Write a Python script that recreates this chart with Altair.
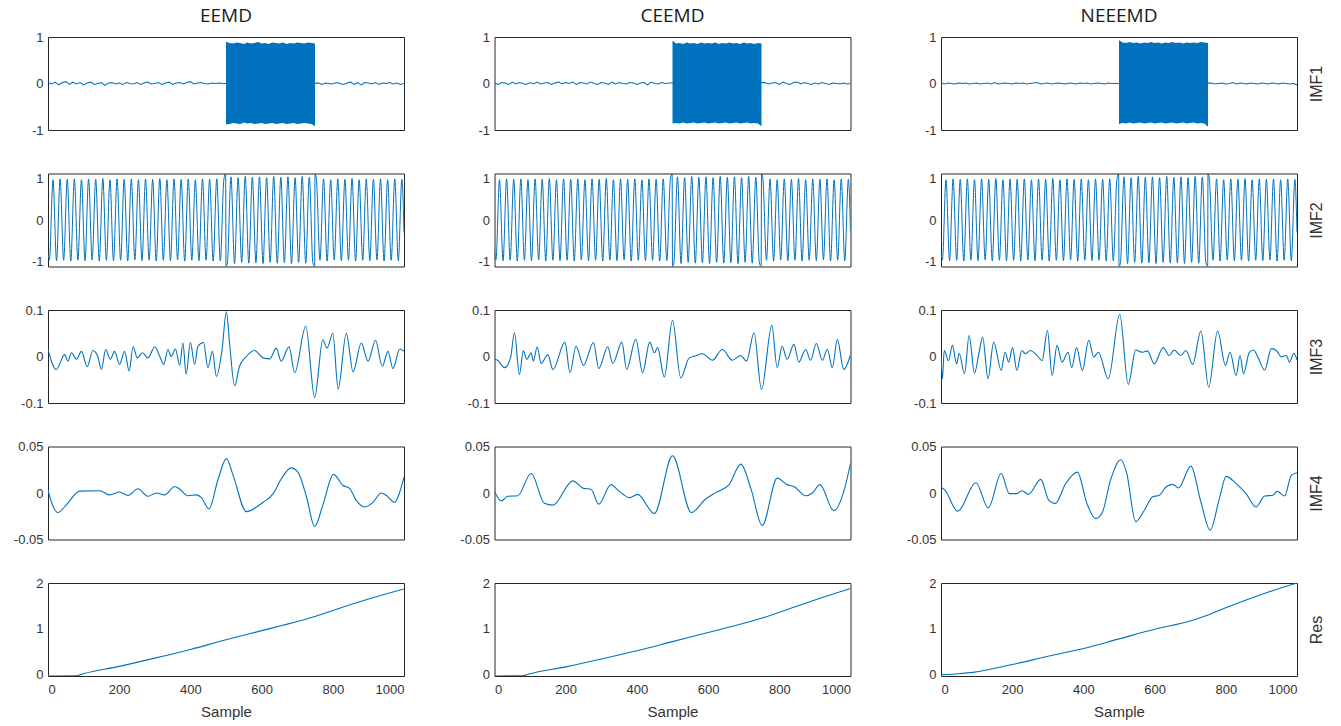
import altair as alt
import pandas as pd

BLUE = "#0072BD"
FRAME = "#262626"
TEXT = "#333333"

METHODS = ["EEMD", "CEEMD", "NEEEMD"]
ROW_LABELS = ["IMF1", "IMF2", "IMF3", "IMF4", "Res"]
Y_DOMAINS = [[-1, 1], [-1.12, 1.12], [-0.1, 0.1], [-0.05, 0.05], [-0.03, 2]]
Y_TICKS = [[-1, 0, 1], [-1, 0, 1], [-0.1, 0, 0.1], [-0.05, 0, 0.05], [0, 1, 2]]
X_TICKS = [0, 200, 400, 600, 800, 1000]

# ---------------- IMF1 : low noise + burst (500-750) ----------------
IMF1_PRE_X = [0, 10, 20, 30, 40, 50, 60, 70, 80, 90, 100, 110, 120, 130, 140, 150, 160, 170, 180, 190,
              200, 210, 220, 230, 240, 250, 260, 270, 280, 290, 300, 310, 320, 330, 340, 350, 360, 370, 380, 390,
              400, 410, 420, 430, 440, 450, 460, 470, 480, 490]
IMF1_POST_X = [760, 770, 780, 790, 800, 810, 820, 830, 840, 850, 860, 870, 880, 890, 900, 910, 920, 930, 940, 950,
               960, 970, 980, 990, 1000]
BURST_X = [500, 510, 520, 530, 540, 550, 560, 570, 580, 590, 600, 610, 620, 630, 640, 650, 660, 670, 680, 690,
           700, 710, 720, 730, 740, 750]

EEMD_IMF1_PRE = [0.02, -0.01, 0.03, -0.03, 0.02, 0.04, -0.02, 0.03, -0.01, 0.02,
                 -0.03, 0.01, 0.03, -0.02, 0.00, 0.02, -0.04, 0.01, 0.02, -0.01,
                 0.01, -0.02, 0.02, 0.00, -0.01, 0.02, -0.02, 0.01, 0.03, -0.01,
                 0.00, 0.02, -0.02, 0.01, 0.03, -0.02, 0.01, 0.02, -0.01, 0.02,
                 0.04, -0.01, 0.01, 0.02, 0.00, -0.01, 0.01, 0.00, 0.01, 0.00]
EEMD_IMF1_POST = [0.01, -0.02, 0.01, 0.00, -0.01, 0.02, 0.00, -0.02, 0.01, 0.03, -0.02, 0.02, -0.03,
                  0.02, 0.01, -0.01, 0.02, -0.02, 0.01, 0.00, 0.02, -0.01, 0.01, -0.02, 0.00]
EEMD_BURST_HI = [0.90, 0.87, 0.86, 0.88, 0.87, 0.85, 0.88, 0.86, 0.87, 0.89, 0.86, 0.87, 0.85,
                 0.88, 0.87, 0.86, 0.88, 0.85, 0.87, 0.86, 0.88, 0.87, 0.86, 0.88, 0.87, 0.86]
EEMD_BURST_LO = [-0.88, -0.87, -0.85, -0.86, -0.87, -0.84, -0.86, -0.85, -0.87, -0.86, -0.85, -0.87, -0.86,
                 -0.85, -0.87, -0.86, -0.85, -0.87, -0.86, -0.85, -0.87, -0.86, -0.85, -0.86, -0.87, -0.92]

CEEMD_IMF1_PRE = [0.01, -0.02, 0.02, 0.01, -0.02, 0.03, -0.01, 0.02, 0.00, -0.02,
                  0.02, -0.01, 0.03, -0.01, 0.01, 0.02, -0.02, 0.01, 0.03, -0.01,
                  0.02, 0.00, 0.03, -0.02, 0.02, 0.01, -0.01, 0.03, 0.00, -0.02,
                  0.02, 0.01, -0.02, 0.03, -0.01, 0.02, 0.00, -0.01, 0.02, 0.01,
                  -0.02, 0.01, 0.02, -0.03, 0.03, 0.00, -0.01, 0.02, 0.00, 0.01]
CEEMD_IMF1_POST = [0.02, -0.01, 0.01, 0.02, -0.02, 0.03, 0.00, -0.02, 0.02, 0.03, -0.01, 0.02, 0.00,
                   -0.02, 0.01, -0.01, 0.02, 0.00, -0.02, 0.01, 0.00, -0.01, 0.01, -0.01, 0.00]
CEEMD_BURST_HI = [0.92, 0.86, 0.87, 0.85, 0.88, 0.86, 0.87, 0.85, 0.88, 0.86, 0.87, 0.86, 0.88,
                  0.85, 0.87, 0.86, 0.88, 0.86, 0.87, 0.85, 0.88, 0.86, 0.87, 0.85, 0.87, 0.86]
CEEMD_BURST_LO = [-0.86, -0.85, -0.86, -0.84, -0.86, -0.85, -0.84, -0.86, -0.85, -0.84, -0.86, -0.85, -0.84,
                  -0.86, -0.85, -0.84, -0.86, -0.85, -0.84, -0.86, -0.85, -0.84, -0.86, -0.85, -0.86, -0.92]

NEEEMD_IMF1_PRE = [0.01, -0.01, 0.01, 0.00, -0.01, 0.01, 0.00, 0.01, -0.01, 0.00,
                   0.01, -0.01, 0.00, 0.01, -0.01, 0.02, -0.01, 0.00, 0.01, 0.00,
                   -0.01, 0.01, 0.00, 0.01, -0.01, 0.00, 0.01, 0.02, -0.01, 0.00,
                   0.01, -0.01, 0.00, 0.01, 0.00, -0.01, 0.01, 0.00, -0.01, 0.01,
                   0.00, 0.01, -0.01, 0.00, 0.01, 0.00, -0.01, 0.01, 0.00, 0.00]
NEEEMD_IMF1_POST = [0.01, -0.01, 0.00, 0.01, -0.01, 0.00, 0.02, -0.01, 0.01, 0.00, -0.01, 0.01, 0.00,
                    -0.01, 0.01, 0.00, -0.01, 0.01, 0.00, -0.01, 0.01, 0.00, -0.01, 0.00, -0.03]
NEEEMD_BURST_HI = [0.93, 0.88, 0.87, 0.89, 0.87, 0.88, 0.86, 0.88, 0.87, 0.89, 0.87, 0.88, 0.86,
                   0.88, 0.87, 0.89, 0.87, 0.88, 0.86, 0.88, 0.87, 0.88, 0.87, 0.89, 0.88, 0.87]
NEEEMD_BURST_LO = [-0.87, -0.85, -0.86, -0.84, -0.86, -0.85, -0.84, -0.86, -0.85, -0.84, -0.86, -0.85, -0.84,
                   -0.86, -0.85, -0.84, -0.86, -0.85, -0.84, -0.86, -0.85, -0.84, -0.86, -0.85, -0.86, -0.93]

# ---------------- IMF2 : ~50-cycle oscillation (extrema) ----------------
IMF2_PEAK_X = [14, 34, 54, 74, 94, 114, 134, 154, 174, 194, 214, 234, 254, 274, 294, 314, 334, 354, 374, 394,
               414, 434, 454, 474, 494, 514, 534, 554, 574, 594, 614, 634, 654, 674, 694, 714, 734, 754, 774, 794,
               814, 834, 854, 874, 894, 914, 934, 954, 974, 994]
IMF2_PEAK_Y = [0.97, 0.99, 0.98, 0.99, 0.97, 0.99, 0.98, 1.0, 0.97, 0.99,
               0.98, 0.99, 0.97, 0.99, 0.98, 1.0, 0.97, 0.99, 0.98, 0.99,
               0.97, 0.99, 0.98, 0.99, 0.98,
               1.04, 1.02, 1.05, 1.03, 1.04, 1.02, 1.05, 1.03, 1.04, 1.02, 1.05, 1.03,
               0.98, 0.99, 0.97, 0.99, 0.98, 1.0, 0.97, 0.99, 0.98, 0.99, 0.97, 0.99, 0.98]
IMF2_TROUGH_X = [4, 24, 44, 64, 84, 104, 124, 144, 164, 184, 204, 224, 244, 264, 284, 304, 324, 344, 364, 384,
                 404, 424, 444, 464, 484, 504, 524, 544, 564, 584, 604, 624, 644, 664, 684, 704, 724, 744, 764, 784,
                 804, 824, 844, 864, 884, 904, 924, 944, 964, 984]
IMF2_TROUGH_Y = [-0.96, -0.98, -0.97, -0.99, -0.97, -0.98, -0.96, -0.99, -0.97, -0.98,
                 -0.97, -0.99, -0.96, -0.98, -0.97, -0.99, -0.97, -0.98, -0.96, -0.99,
                 -0.97, -0.98, -0.97, -0.99, -0.98,
                 -1.03, -1.05, -1.02, -1.04, -1.03, -1.05, -1.02, -1.04, -1.03, -1.05, -1.02, -1.04, -1.03,
                 -0.97, -0.99, -0.96, -0.98, -0.97, -0.99, -0.97, -0.98, -0.96, -0.99, -0.97, -0.98]
IMF2_EXTRA_X = [0, 499, 500, 749, 750, 1000]
IMF2_EXTRA_Y = [-0.8, 1.12, -1.12, -1.12, 1.12, -0.3]

# ---------------- IMF3 ----------------
EEMD_IMF3_X = [0, 23, 47, 56, 66, 80, 94, 110, 126, 140, 150, 162, 175, 187, 201, 215, 228, 239, 251, 265,
               281, 300, 314, 325, 337, 346, 358, 370, 379, 388, 400, 412, 421, 437, 449, 462, 473, 489, 501, 510,
               524, 538, 557, 580, 604, 623, 641, 655, 677, 693, 724, 749, 772, 784, 800, 815, 838, 857, 880, 899,
               920, 939, 955, 969, 988, 1000]
EEMD_IMF3_Y = [0.015, -0.028, 0.004, -0.01, 0.008, -0.006, 0.011, -0.022, 0.013, 0.0,
               -0.028, 0.015, -0.006, 0.011, -0.017, 0.011, -0.031, 0.021, -0.003, 0.008,
               -0.003, 0.021, 0.0, -0.017, 0.015, 0.0, 0.016, -0.019, 0.029, -0.038,
               0.03, -0.017, 0.022, 0.03, -0.024, 0.011, -0.043, 0.015, 0.096, 0.029,
               -0.063, -0.021, 0.0, 0.013, -0.003, -0.005, 0.018, -0.01, 0.021, -0.035,
               0.065, -0.088, 0.036, 0.018, 0.05, -0.07, 0.05, -0.033, 0.029, -0.01,
               0.035, -0.021, 0.011, -0.026, 0.016, 0.011]
CEEMD_IMF3_X = [0, 9, 28, 45, 56, 70, 81, 91, 103, 109, 120, 131, 150, 164, 198, 212, 229, 250, 278, 293,
                318, 332, 358, 371, 397, 416, 436, 449, 458, 477, 500, 523, 547, 564, 584, 612, 640, 668, 692, 708,
                729, 750, 779, 794, 808, 822, 841, 855, 874, 888, 904, 921, 935, 949, 963, 981, 1000]
CEEMD_IMF3_Y = [-0.006, -0.008, -0.024, -0.003, 0.051, -0.039, 0.012, -0.006, 0.008, -0.01,
                0.021, -0.015, 0.004, -0.028, 0.031, -0.035, 0.022, -0.019, 0.03, -0.026,
                0.021, -0.015, 0.031, -0.028, 0.037, -0.035, 0.031, 0.008, 0.019, -0.044,
                0.078, -0.046, -0.003, 0.001, 0.006, -0.008, 0.015, -0.008, 0.002, -0.01,
                0.051, -0.071, 0.067, -0.024, 0.022, -0.006, 0.026, -0.012, 0.015, -0.008,
                0.028, -0.008, 0.015, -0.024, 0.037, -0.028, 0.004]
NEEEMD_IMF3_X = [0, 4, 9, 21, 32, 44, 51, 66, 79, 94, 107, 117, 132, 148, 169, 180, 190, 201, 213, 227,
                 237, 251, 270, 284, 299, 312, 326, 340, 357, 367, 381, 397, 415, 429, 442, 470, 502, 526, 547, 566,
                 580, 599, 624, 641, 655, 674, 688, 707, 730, 752, 777, 799, 812, 829, 840, 850, 866, 878, 890, 909,
                 928, 942, 956, 970, 979, 991, 1000]
NEEEMD_IMF3_Y = [-0.001, -0.048, 0.013, -0.009, 0.024, -0.016, 0.007, -0.037, 0.045, -0.036,
                 0.009, 0.042, -0.048, 0.031, -0.03, 0.009, -0.012, 0.019, -0.03, 0.013,
                 0.006, 0.013, 0.002, -0.009, 0.056, -0.041, 0.024, -0.012, 0.009, -0.024,
                 0.019, -0.03, 0.035, -0.001, 0.009, -0.048, 0.091, -0.06, 0.014, 0.009,
                 0.012, -0.016, 0.019, 0.002, 0.014, 0.002, 0.013, -0.017, 0.055, -0.066,
                 0.055, -0.019, 0.009, -0.041, 0.002, -0.037, 0.009, 0.014, -0.001, -0.029,
                 0.017, 0.013, -0.001, 0.002, -0.012, 0.007, -0.007]

# ---------------- IMF4 ----------------
EEMD_IMF4_X = [0, 5, 28, 51, 89, 145, 173, 201, 225, 253, 281, 304, 328, 356, 370, 393, 417, 431, 452, 478,
               501, 520, 557, 604, 632, 655, 683, 702, 726, 749, 772, 802, 829, 847, 866, 889, 913, 936, 950, 974,
               988, 1000]
EEMD_IMF4_Y = [0.003, -0.004, -0.021, -0.013, 0.002, 0.0025, -0.002, 0.001, -0.0025, 0.0045,
               -0.0035, 0.0, -0.002, 0.007, 0.004, -0.003, -0.002, -0.005, -0.017, 0.015,
               0.037, 0.019, -0.02, -0.01, -0.001, 0.015, 0.027, 0.0225, -0.004, -0.036,
               -0.013, 0.02, 0.008, 0.005, -0.008, -0.015, -0.010, 0.0, -0.0025, -0.010,
               0.001, 0.017]
CEEMD_IMF4_X = [0, 19, 37, 65, 103, 140, 164, 220, 250, 271, 293, 327, 350, 380, 402, 449, 500, 553, 593, 621,
                659, 692, 720, 752, 794, 822, 841, 874, 893, 914, 953, 981, 1000]
CEEMD_IMF4_Y = [0.0015, -0.0085, -0.0035, -0.003, 0.021, -0.011, -0.013, 0.013, 0.005, 0.004,
                -0.012, 0.009, 0.002, -0.005, -0.0015, -0.022, 0.04, -0.021, -0.0065, 0.0004,
                0.009, 0.031, 0.005, -0.035, 0.016, 0.009, 0.007, -0.003, 0.0, 0.009,
                -0.019, 0.0015, 0.032]
NEEEMD_IMF4_X = [0, 11, 47, 98, 133, 169, 192, 213, 227, 246, 280, 303, 321, 350, 383, 410, 434, 453, 476, 505,
                 521, 547, 571, 594, 613, 632, 650, 667, 702, 730, 756, 782, 801, 829, 857, 885, 909, 932, 944, 965,
                 984, 1000]
NEEEMD_IMF4_Y = [0.0064, 0.003, -0.0196, 0.011, -0.016, 0.021, -0.0007, -0.0007, 0.0025, -0.0014,
                 0.0146, -0.0079, -0.0114, 0.01, 0.0225, -0.0114, -0.0275, -0.021, 0.0136, 0.0357,
                 0.0225, -0.031, -0.0186, -0.0043, -0.0025, 0.0064, 0.0093, 0.0054, 0.0289, -0.0096,
                 -0.04, -0.006, 0.0179, 0.01, -0.0007, -0.015, -0.0032, -0.0025, 0.0018, -0.0032,
                 0.019, 0.0218]

# ---------------- Residue ----------------
EEMD_RES_X = [0, 80, 100, 200, 300, 400, 500, 600, 700, 750, 800, 900, 1000]
EEMD_RES_Y = [-0.03, -0.025, 0.02, 0.18, 0.36, 0.55, 0.76, 0.96, 1.16, 1.27, 1.40, 1.65, 1.87]
CEEMD_RES_X = [0, 80, 100, 200, 300, 400, 500, 600, 700, 750, 800, 900, 1000]
CEEMD_RES_Y = [-0.03, -0.025, 0.02, 0.17, 0.34, 0.52, 0.72, 0.92, 1.12, 1.23, 1.36, 1.63, 1.88]
NEEEMD_RES_X = [0, 40, 90, 200, 300, 400, 500, 600, 700, 750, 800, 900, 1000]
NEEEMD_RES_Y = [0.0, 0.015, 0.05, 0.22, 0.40, 0.57, 0.78, 0.99, 1.17, 1.30, 1.46, 1.75, 2.0]

IMF1 = {
    "EEMD": (EEMD_IMF1_PRE, EEMD_IMF1_POST, EEMD_BURST_HI, EEMD_BURST_LO),
    "CEEMD": (CEEMD_IMF1_PRE, CEEMD_IMF1_POST, CEEMD_BURST_HI, CEEMD_BURST_LO),
    "NEEEMD": (NEEEMD_IMF1_PRE, NEEEMD_IMF1_POST, NEEEMD_BURST_HI, NEEEMD_BURST_LO),
}
CURVES = {
    ("EEMD", 2): (EEMD_IMF3_X, EEMD_IMF3_Y), ("CEEMD", 2): (CEEMD_IMF3_X, CEEMD_IMF3_Y),
    ("NEEEMD", 2): (NEEEMD_IMF3_X, NEEEMD_IMF3_Y),
    ("EEMD", 3): (EEMD_IMF4_X, EEMD_IMF4_Y), ("CEEMD", 3): (CEEMD_IMF4_X, CEEMD_IMF4_Y),
    ("NEEEMD", 3): (NEEEMD_IMF4_X, NEEEMD_IMF4_Y),
    ("EEMD", 4): (EEMD_RES_X, EEMD_RES_Y), ("CEEMD", 4): (CEEMD_RES_X, CEEMD_RES_Y),
    ("NEEEMD", 4): (NEEEMD_RES_X, NEEEMD_RES_Y),
}


def xy_frame(xs, ys):
    assert len(xs) == len(ys)
    return pd.DataFrame({"x": xs, "y": ys}).sort_values("x")


def x_enc(r):
    if r == 4:
        ax = alt.Axis(values=X_TICKS, title="Sample", labelExpr="'' + datum.value",
                      labelPadding=7, titlePadding=8)
    else:
        ax = None
    return alt.X("x:Q", scale=alt.Scale(domain=[0, 1000], nice=False, zero=False), axis=ax)


def y_scale(r):
    return alt.Scale(domain=Y_DOMAINS[r], nice=False, zero=False)


def panel(r, c):
    m = METHODS[c]
    left_axis = alt.Axis(values=Y_TICKS[r], labelExpr="'' + datum.value", title=None, labelPadding=5)
    layers = []
    if r == 0:
        pre, post, hi, lo = IMF1[m]
        df = xy_frame(IMF1_PRE_X + IMF1_POST_X, pre + post)
        burst = pd.DataFrame({"x": BURST_X, "hi": hi, "lo": lo})
        layers.append(alt.Chart(df).mark_line(color=BLUE, strokeWidth=1.1, clip=True).encode(
            x=x_enc(r), y=alt.Y("y:Q", scale=y_scale(r), axis=left_axis)))
        layers.append(alt.Chart(burst).mark_area(color=BLUE, opacity=1, clip=True).encode(
            x=x_enc(r), y=alt.Y("hi:Q", scale=y_scale(r), axis=None), y2="lo:Q"))
    elif r == 1:
        df = xy_frame(IMF2_PEAK_X + IMF2_TROUGH_X + IMF2_EXTRA_X, IMF2_PEAK_Y + IMF2_TROUGH_Y + IMF2_EXTRA_Y)
        layers.append(alt.Chart(df).mark_line(color=BLUE, strokeWidth=1, clip=True, interpolate="monotone").encode(
            x=x_enc(r), y=alt.Y("y:Q", scale=y_scale(r), axis=left_axis)))
    else:
        xs, ys = CURVES[(m, r)]
        df = xy_frame(xs, ys)
        layers.append(alt.Chart(df).mark_line(color=BLUE, strokeWidth=1.1, clip=True, interpolate="monotone").encode(
            x=x_enc(r), y=alt.Y("y:Q", scale=y_scale(r), axis=left_axis)))
    if c == 2:
        right_axis = alt.Axis(orient="right", labels=False, ticks=False, domain=False, grid=False,
                              title=ROW_LABELS[r], titleAngle=270, titleBaseline="top", titlePadding=11,
                              titleFontSize=16, minExtent=0, maxExtent=0)
        layers.append(alt.Chart(df).mark_line(opacity=0).encode(
            x=x_enc(r), y=alt.Y("y:Q", scale=y_scale(r), axis=right_axis)))
    ch = alt.layer(*layers).resolve_axis(y="independent").properties(width=356, height=93)
    if r == 0:
        ch = ch.properties(title=alt.TitleParams(text=m, fontSize=19, font="Open Sans", fontWeight="normal",
                                                 color="#1a1a1a", offset=5, anchor="middle"))
    return ch


panels = [panel(r, c) for r in range(5) for c in range(3)]

chart = alt.concat(*panels, columns=3, spacing={"row": 43.5, "column": 90.5}, bounds="flush").configure_view(
    stroke=FRAME, strokeWidth=1
).configure_axis(
    grid=False, ticks=False, domain=False, tickSize=0,
    labelFont="Liberation Sans", labelFontSize=13, labelColor=TEXT,
    titleFont="Liberation Sans", titleFontSize=15, titleFontWeight="normal", titleColor=TEXT
).properties(
    padding={"left": 12, "top": 6, "right": 5, "bottom": 5}, background="white"
)

chart.save("out.html", embed_options={"renderer": "svg", "actions": False})
